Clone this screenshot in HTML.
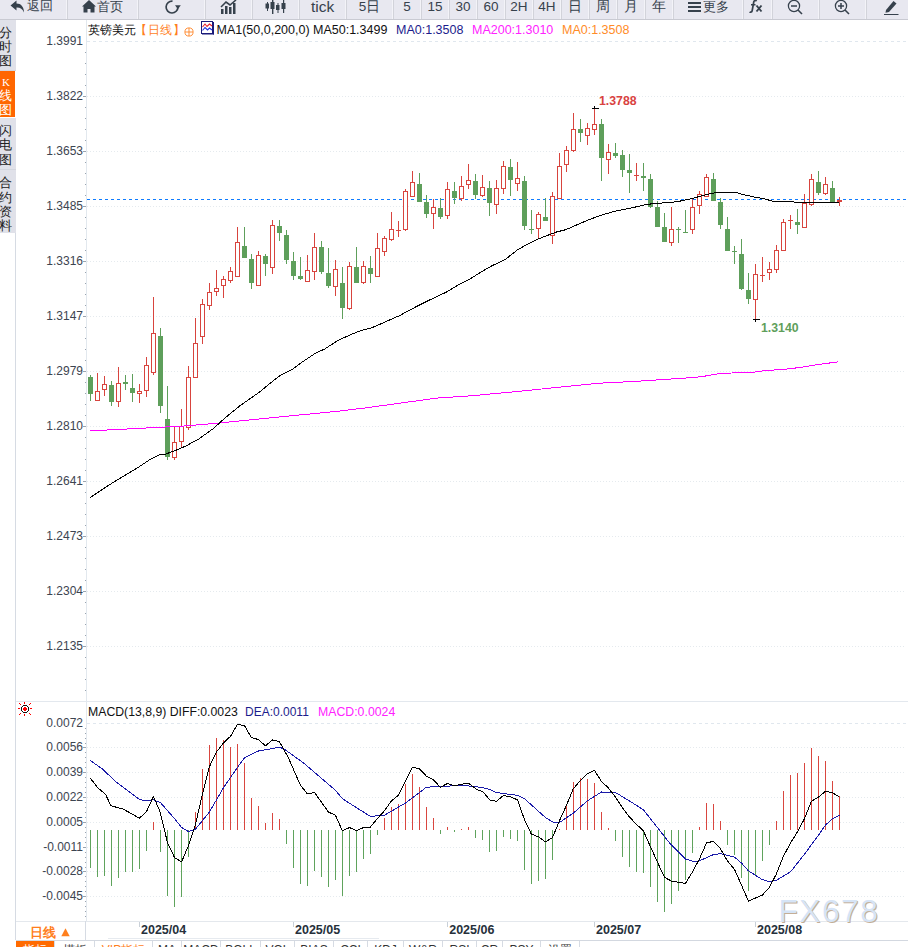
<!DOCTYPE html>
<html><head><meta charset="utf-8"><style>
html,body{margin:0;padding:0;}
body{width:908px;height:947px;overflow:hidden;position:relative;background:#fff;font-family:"Liberation Sans",sans-serif;color:#333;}
.abs{position:absolute;white-space:nowrap;}
#toolbar{position:absolute;left:0;top:0;width:908px;height:19px;background:#e8e8f0;border-bottom:1px solid #c9cad2;overflow:hidden;}
.tb{position:absolute;top:-6px;height:25px;display:flex;align-items:center;justify-content:center;color:#36414c;gap:1px;}
.side{position:absolute;left:0;width:16px;background:#e0e1e9;border-bottom:1px solid #d3d6de;}
.sc{position:absolute;left:-1px;font-size:13px;line-height:13px;}
.cj{font-size:12px;line-height:14px;}
.la{font-size:12.5px;line-height:14px;}
.lm{font-size:12px;line-height:14px;}
.yl{position:absolute;right:825px;font-size:12px;color:#3c4450;line-height:12px;}
.dl{position:absolute;top:923px;font-size:12.5px;font-weight:bold;color:#26303b;line-height:14px;}
.bt{position:absolute;top:941px;height:14px;font-size:12px;line-height:19px;text-align:center;border-right:1px solid #d6dbe3;color:#333;}
</style></head><body>
<div id="toolbar">
<div class="tb" style="left:0px;width:67px;"><svg width="15" height="13" viewBox="0 0 15 13" style="margin-left:-5px;margin-right:1px"><path d="M6.5 0.5 L0.5 5.5 L6.5 10.5 L6.5 7.5 C10 7.3 12.5 8.8 14 12.5 C14 7 11 3.6 6.5 3.6 Z" fill="#36414c"/></svg><span style="font-size:12.5px">返回</span></div>
<div class="tb" style="left:67px;width:71px;"><svg width="14" height="13" viewBox="0 0 14 13" style="vertical-align:-1px"><path d="M7 0 L0 6.5 L1.5 6.5 L1.5 12.5 L5.5 12.5 L5.5 9 L8.5 9 L8.5 12.5 L12.5 12.5 L12.5 6.5 L14 6.5 Z" fill="#36414c"/></svg><span style="font-size:13px">首页</span></div>
<div class="abs" style="left:66px;top:0;width:1px;height:20px;background:#f3f3f8"></div><div class="abs" style="left:67px;top:0;width:1px;height:19px;background:#d2d3da"></div>
<div class="tb" style="left:138px;width:67px;"><svg width="20" height="16" viewBox="0 0 20 16" style="margin-left:1px"><path d="M10.5 2.2 A5.9 5.9 0 1 0 15.9 8" fill="none" stroke="#36414c" stroke-width="1.7"/><path d="M13 6.3 L18.8 6.3 L15.9 10.2 Z" fill="#36414c"/></svg></div>
<div class="abs" style="left:137px;top:0;width:1px;height:20px;background:#f3f3f8"></div><div class="abs" style="left:138px;top:0;width:1px;height:19px;background:#d2d3da"></div>
<div class="tb" style="left:205px;width:47px;"><svg width="18" height="14" viewBox="0 0 18 14"><rect x="1" y="9" width="2.5" height="5" fill="#36414c"/><rect x="5" y="6" width="2.5" height="8" fill="#36414c"/><rect x="9" y="7" width="2.5" height="7" fill="#36414c"/><rect x="13" y="3" width="2.5" height="11" fill="#36414c"/><path d="M1 7 L6 2 L10 5 L16 0" fill="none" stroke="#36414c" stroke-width="1.6"/></svg></div>
<div class="abs" style="left:204px;top:0;width:1px;height:20px;background:#f3f3f8"></div><div class="abs" style="left:205px;top:0;width:1px;height:19px;background:#d2d3da"></div>
<div class="tb" style="left:252px;width:47px;"><svg width="21" height="15" viewBox="0 0 21 15"><g fill="#36414c"><rect x="2" y="3" width="1" height="9"/><rect x="0.5" y="4.5" width="3.5" height="5"/><rect x="7" y="0" width="1.4" height="15"/><rect x="5.5" y="3" width="4" height="7"/><rect x="12.5" y="4" width="1" height="10"/><rect x="11" y="6" width="3.5" height="5"/><rect x="18" y="1" width="1.2" height="13"/><rect x="16.5" y="4" width="4" height="6"/></g></svg></div>
<div class="abs" style="left:251px;top:0;width:1px;height:20px;background:#f3f3f8"></div><div class="abs" style="left:252px;top:0;width:1px;height:19px;background:#d2d3da"></div>
<div class="tb" style="left:299px;width:47px;"><span style="font-size:15.5px">tick</span></div>
<div class="abs" style="left:298px;top:0;width:1px;height:20px;background:#f3f3f8"></div><div class="abs" style="left:299px;top:0;width:1px;height:19px;background:#d2d3da"></div>
<div class="tb" style="left:346px;width:47px;"><span style="font-size:13.5px">5日</span></div>
<div class="abs" style="left:345px;top:0;width:1px;height:20px;background:#f3f3f8"></div><div class="abs" style="left:346px;top:0;width:1px;height:19px;background:#d2d3da"></div>
<div class="tb" style="left:393px;width:28px;"><span style="font-size:13.5px">5</span></div>
<div class="abs" style="left:392px;top:0;width:1px;height:20px;background:#f3f3f8"></div><div class="abs" style="left:393px;top:0;width:1px;height:19px;background:#d2d3da"></div>
<div class="tb" style="left:421px;width:28px;"><span style="font-size:13.5px">15</span></div>
<div class="abs" style="left:420px;top:0;width:1px;height:20px;background:#f3f3f8"></div><div class="abs" style="left:421px;top:0;width:1px;height:19px;background:#d2d3da"></div>
<div class="tb" style="left:449px;width:28px;"><span style="font-size:13.5px">30</span></div>
<div class="abs" style="left:448px;top:0;width:1px;height:20px;background:#f3f3f8"></div><div class="abs" style="left:449px;top:0;width:1px;height:19px;background:#d2d3da"></div>
<div class="tb" style="left:477px;width:28px;"><span style="font-size:13.5px">60</span></div>
<div class="abs" style="left:476px;top:0;width:1px;height:20px;background:#f3f3f8"></div><div class="abs" style="left:477px;top:0;width:1px;height:19px;background:#d2d3da"></div>
<div class="tb" style="left:505px;width:28px;"><span style="font-size:13.5px">2H</span></div>
<div class="abs" style="left:504px;top:0;width:1px;height:20px;background:#f3f3f8"></div><div class="abs" style="left:505px;top:0;width:1px;height:19px;background:#d2d3da"></div>
<div class="tb" style="left:533px;width:28px;"><span style="font-size:13.5px">4H</span></div>
<div class="abs" style="left:532px;top:0;width:1px;height:20px;background:#f3f3f8"></div><div class="abs" style="left:533px;top:0;width:1px;height:19px;background:#d2d3da"></div>
<div class="tb" style="left:561px;width:28px;"><span style="font-size:13.5px">日</span></div>
<div class="abs" style="left:560px;top:0;width:1px;height:20px;background:#f3f3f8"></div><div class="abs" style="left:561px;top:0;width:1px;height:19px;background:#d2d3da"></div>
<div class="tb" style="left:589px;width:28px;"><span style="font-size:13.5px">周</span></div>
<div class="abs" style="left:588px;top:0;width:1px;height:20px;background:#f3f3f8"></div><div class="abs" style="left:589px;top:0;width:1px;height:19px;background:#d2d3da"></div>
<div class="tb" style="left:617px;width:28px;"><span style="font-size:13.5px">月</span></div>
<div class="abs" style="left:616px;top:0;width:1px;height:20px;background:#f3f3f8"></div><div class="abs" style="left:617px;top:0;width:1px;height:19px;background:#d2d3da"></div>
<div class="tb" style="left:645px;width:28px;"><span style="font-size:13.5px">年</span></div>
<div class="abs" style="left:644px;top:0;width:1px;height:20px;background:#f3f3f8"></div><div class="abs" style="left:645px;top:0;width:1px;height:19px;background:#d2d3da"></div>
<div class="tb" style="left:673px;width:70px;"><svg width="14" height="12" viewBox="0 0 14 12" style="vertical-align:-1px"><rect x="0" y="1" width="13" height="2" fill="#36414c"/><rect x="0" y="5" width="13" height="2" fill="#36414c"/><rect x="0" y="9" width="13" height="2" fill="#36414c"/></svg><span style="font-size:13px">更多</span></div>
<div class="abs" style="left:672px;top:0;width:1px;height:20px;background:#f3f3f8"></div><div class="abs" style="left:673px;top:0;width:1px;height:19px;background:#d2d3da"></div>
<div class="tb" style="left:743px;width:29px;"><svg width="18" height="15" viewBox="0 0 18 15" style="margin-left:-1px"><path d="M8.5 2.2 C7.8 1.2 6.2 1.2 5.8 2.8 L4.2 11.5 C3.9 13.2 2.6 13.6 1.6 12.8" fill="none" stroke="#36414c" stroke-width="1.7"/><rect x="3" y="5" width="4.5" height="1.5" fill="#36414c"/><path d="M8.5 6.5 L13.5 12.5 M13.5 6.5 L8.5 12.5" stroke="#36414c" stroke-width="1.9"/></svg></div>
<div class="abs" style="left:742px;top:0;width:1px;height:20px;background:#f3f3f8"></div><div class="abs" style="left:743px;top:0;width:1px;height:19px;background:#d2d3da"></div>
<div class="tb" style="left:772px;width:47px;"><svg width="17" height="16" viewBox="0 0 17 16"><circle cx="7" cy="7" r="5.6" fill="none" stroke="#36414c" stroke-width="1.25"/><line x1="4" y1="7" x2="10" y2="7" stroke="#36414c" stroke-width="1.5"/><line x1="11" y1="11" x2="15" y2="15" stroke="#36414c" stroke-width="1.6"/></svg></div>
<div class="abs" style="left:771px;top:0;width:1px;height:20px;background:#f3f3f8"></div><div class="abs" style="left:772px;top:0;width:1px;height:19px;background:#d2d3da"></div>
<div class="tb" style="left:819px;width:47px;"><svg width="17" height="16" viewBox="0 0 17 16"><circle cx="7" cy="7" r="5.6" fill="none" stroke="#36414c" stroke-width="1.25"/><line x1="4" y1="7" x2="10" y2="7" stroke="#36414c" stroke-width="1.5"/><line x1="7" y1="4" x2="7" y2="10" stroke="#36414c" stroke-width="1.5"/><line x1="11" y1="11" x2="15" y2="15" stroke="#36414c" stroke-width="1.6"/></svg></div>
<div class="abs" style="left:818px;top:0;width:1px;height:20px;background:#f3f3f8"></div><div class="abs" style="left:819px;top:0;width:1px;height:19px;background:#d2d3da"></div>
<div class="tb" style="left:866px;width:42px;"><svg width="18" height="16" viewBox="0 0 18 16" style="margin-left:5px"><path d="M5 11 L12.5 2 L15.5 4.5 L8 13 L4.5 13.8 Z" fill="#36414c"/><rect x="3" y="15" width="14.5" height="1.3" fill="#36414c"/></svg></div>
<div class="abs" style="left:865px;top:0;width:1px;height:20px;background:#f3f3f8"></div><div class="abs" style="left:866px;top:0;width:1px;height:19px;background:#d2d3da"></div>
</div>
<div class="side" style="top:20px;height:50px;"></div>
<div class="side" style="top:71px;height:46px;width:15px;background:#ff6600;border-bottom:none"></div>
<div class="side" style="top:118px;height:51px;"></div>
<div class="side" style="top:170px;height:63px;border-bottom:none"></div>
<div class="sc" style="top:26px;color:#222">分</div>
<div class="sc" style="top:40px;color:#222">时</div>
<div class="sc" style="top:54px;color:#222">图</div>
<div class="sc" style="top:89px;color:#fff">线</div>
<div class="sc" style="top:103px;color:#fff">图</div>
<div class="sc" style="top:124px;color:#222">闪</div>
<div class="sc" style="top:138px;color:#222">电</div>
<div class="sc" style="top:153px;color:#222">图</div>
<div class="sc" style="top:176px;color:#222">合</div>
<div class="sc" style="top:191px;color:#222">约</div>
<div class="sc" style="top:205px;color:#222">资</div>
<div class="sc" style="top:219px;color:#222">料</div>
<div class="sc" style="top:76px;left:2px;color:#fff;font-family:'Liberation Serif',serif;font-size:11px">K</div>
<svg class="abs" style="left:0;top:0" width="908" height="947" viewBox="0 0 908 947">
<line x1="87" y1="41.5" x2="906" y2="41.5" stroke="#e0e7ee" stroke-dasharray="3 3"/>
<rect x="85" y="52" width="1" height="1" fill="#9aa4b0"/>
<rect x="85" y="63" width="1" height="1" fill="#9aa4b0"/>
<rect x="85" y="74" width="1" height="1" fill="#9aa4b0"/>
<rect x="85" y="85" width="1" height="1" fill="#9aa4b0"/>
<line x1="87" y1="96.5" x2="906" y2="96.5" stroke="#e5eaee" stroke-dasharray="1 2"/>
<line x1="83" y1="96.5" x2="86" y2="96.5" stroke="#9aa4b0"/>
<rect x="85" y="107" width="1" height="1" fill="#9aa4b0"/>
<rect x="85" y="118" width="1" height="1" fill="#9aa4b0"/>
<rect x="85" y="129" width="1" height="1" fill="#9aa4b0"/>
<rect x="85" y="140" width="1" height="1" fill="#9aa4b0"/>
<line x1="87" y1="151.5" x2="906" y2="151.5" stroke="#e5eaee" stroke-dasharray="1 2"/>
<line x1="83" y1="151.5" x2="86" y2="151.5" stroke="#9aa4b0"/>
<rect x="85" y="162" width="1" height="1" fill="#9aa4b0"/>
<rect x="85" y="173" width="1" height="1" fill="#9aa4b0"/>
<rect x="85" y="184" width="1" height="1" fill="#9aa4b0"/>
<rect x="85" y="195" width="1" height="1" fill="#9aa4b0"/>
<line x1="87" y1="206.5" x2="906" y2="206.5" stroke="#e5eaee" stroke-dasharray="1 2"/>
<line x1="83" y1="206.5" x2="86" y2="206.5" stroke="#9aa4b0"/>
<rect x="85" y="217" width="1" height="1" fill="#9aa4b0"/>
<rect x="85" y="228" width="1" height="1" fill="#9aa4b0"/>
<rect x="85" y="239" width="1" height="1" fill="#9aa4b0"/>
<rect x="85" y="250" width="1" height="1" fill="#9aa4b0"/>
<line x1="87" y1="261.5" x2="906" y2="261.5" stroke="#e5eaee" stroke-dasharray="1 2"/>
<line x1="83" y1="261.5" x2="86" y2="261.5" stroke="#9aa4b0"/>
<rect x="85" y="272" width="1" height="1" fill="#9aa4b0"/>
<rect x="85" y="283" width="1" height="1" fill="#9aa4b0"/>
<rect x="85" y="294" width="1" height="1" fill="#9aa4b0"/>
<rect x="85" y="305" width="1" height="1" fill="#9aa4b0"/>
<line x1="87" y1="316.5" x2="906" y2="316.5" stroke="#e5eaee" stroke-dasharray="1 2"/>
<line x1="83" y1="316.5" x2="86" y2="316.5" stroke="#9aa4b0"/>
<rect x="85" y="327" width="1" height="1" fill="#9aa4b0"/>
<rect x="85" y="338" width="1" height="1" fill="#9aa4b0"/>
<rect x="85" y="349" width="1" height="1" fill="#9aa4b0"/>
<rect x="85" y="360" width="1" height="1" fill="#9aa4b0"/>
<line x1="87" y1="371.5" x2="906" y2="371.5" stroke="#e5eaee" stroke-dasharray="1 2"/>
<line x1="83" y1="371.5" x2="86" y2="371.5" stroke="#9aa4b0"/>
<rect x="85" y="382" width="1" height="1" fill="#9aa4b0"/>
<rect x="85" y="393" width="1" height="1" fill="#9aa4b0"/>
<rect x="85" y="404" width="1" height="1" fill="#9aa4b0"/>
<rect x="85" y="415" width="1" height="1" fill="#9aa4b0"/>
<line x1="87" y1="426.5" x2="906" y2="426.5" stroke="#e5eaee" stroke-dasharray="1 2"/>
<line x1="83" y1="426.5" x2="86" y2="426.5" stroke="#9aa4b0"/>
<rect x="85" y="437" width="1" height="1" fill="#9aa4b0"/>
<rect x="85" y="448" width="1" height="1" fill="#9aa4b0"/>
<rect x="85" y="459" width="1" height="1" fill="#9aa4b0"/>
<rect x="85" y="470" width="1" height="1" fill="#9aa4b0"/>
<line x1="87" y1="481.5" x2="906" y2="481.5" stroke="#e5eaee" stroke-dasharray="1 2"/>
<line x1="83" y1="481.5" x2="86" y2="481.5" stroke="#9aa4b0"/>
<rect x="85" y="492" width="1" height="1" fill="#9aa4b0"/>
<rect x="85" y="503" width="1" height="1" fill="#9aa4b0"/>
<rect x="85" y="514" width="1" height="1" fill="#9aa4b0"/>
<rect x="85" y="525" width="1" height="1" fill="#9aa4b0"/>
<line x1="87" y1="536.5" x2="906" y2="536.5" stroke="#e5eaee" stroke-dasharray="1 2"/>
<line x1="83" y1="536.5" x2="86" y2="536.5" stroke="#9aa4b0"/>
<rect x="85" y="547" width="1" height="1" fill="#9aa4b0"/>
<rect x="85" y="558" width="1" height="1" fill="#9aa4b0"/>
<rect x="85" y="569" width="1" height="1" fill="#9aa4b0"/>
<rect x="85" y="580" width="1" height="1" fill="#9aa4b0"/>
<line x1="87" y1="591.5" x2="906" y2="591.5" stroke="#e5eaee" stroke-dasharray="1 2"/>
<line x1="83" y1="591.5" x2="86" y2="591.5" stroke="#9aa4b0"/>
<rect x="85" y="602" width="1" height="1" fill="#9aa4b0"/>
<rect x="85" y="613" width="1" height="1" fill="#9aa4b0"/>
<rect x="85" y="624" width="1" height="1" fill="#9aa4b0"/>
<rect x="85" y="635" width="1" height="1" fill="#9aa4b0"/>
<line x1="87" y1="646.5" x2="906" y2="646.5" stroke="#e5eaee" stroke-dasharray="1 2"/>
<line x1="83" y1="646.5" x2="86" y2="646.5" stroke="#9aa4b0"/>
<rect x="85" y="657" width="1" height="1" fill="#9aa4b0"/>
<rect x="85" y="668" width="1" height="1" fill="#9aa4b0"/>
<rect x="85" y="679" width="1" height="1" fill="#9aa4b0"/>
<rect x="85" y="690" width="1" height="1" fill="#9aa4b0"/>
<line x1="87" y1="723.5" x2="906" y2="723.5" stroke="#e0e7ee" stroke-dasharray="3 3"/>
<rect x="85" y="728" width="1" height="1" fill="#9aa4b0"/>
<rect x="85" y="733" width="1" height="1" fill="#9aa4b0"/>
<rect x="85" y="738" width="1" height="1" fill="#9aa4b0"/>
<rect x="85" y="743" width="1" height="1" fill="#9aa4b0"/>
<line x1="87" y1="747.5" x2="906" y2="747.5" stroke="#e5eaee" stroke-dasharray="1 2"/>
<line x1="83" y1="747.5" x2="86" y2="747.5" stroke="#9aa4b0"/>
<rect x="85" y="752" width="1" height="1" fill="#9aa4b0"/>
<rect x="85" y="757" width="1" height="1" fill="#9aa4b0"/>
<rect x="85" y="762" width="1" height="1" fill="#9aa4b0"/>
<rect x="85" y="767" width="1" height="1" fill="#9aa4b0"/>
<line x1="87" y1="772.5" x2="906" y2="772.5" stroke="#e5eaee" stroke-dasharray="1 2"/>
<line x1="83" y1="772.5" x2="86" y2="772.5" stroke="#9aa4b0"/>
<rect x="85" y="777" width="1" height="1" fill="#9aa4b0"/>
<rect x="85" y="782" width="1" height="1" fill="#9aa4b0"/>
<rect x="85" y="787" width="1" height="1" fill="#9aa4b0"/>
<rect x="85" y="792" width="1" height="1" fill="#9aa4b0"/>
<line x1="87" y1="797.5" x2="906" y2="797.5" stroke="#e5eaee" stroke-dasharray="1 2"/>
<line x1="83" y1="797.5" x2="86" y2="797.5" stroke="#9aa4b0"/>
<rect x="85" y="802" width="1" height="1" fill="#9aa4b0"/>
<rect x="85" y="807" width="1" height="1" fill="#9aa4b0"/>
<rect x="85" y="812" width="1" height="1" fill="#9aa4b0"/>
<rect x="85" y="817" width="1" height="1" fill="#9aa4b0"/>
<line x1="87" y1="822.5" x2="906" y2="822.5" stroke="#e5eaee" stroke-dasharray="1 2"/>
<line x1="83" y1="822.5" x2="86" y2="822.5" stroke="#9aa4b0"/>
<rect x="85" y="827" width="1" height="1" fill="#9aa4b0"/>
<rect x="85" y="832" width="1" height="1" fill="#9aa4b0"/>
<rect x="85" y="837" width="1" height="1" fill="#9aa4b0"/>
<rect x="85" y="842" width="1" height="1" fill="#9aa4b0"/>
<line x1="87" y1="847.5" x2="906" y2="847.5" stroke="#e5eaee" stroke-dasharray="1 2"/>
<line x1="83" y1="847.5" x2="86" y2="847.5" stroke="#9aa4b0"/>
<rect x="85" y="852" width="1" height="1" fill="#9aa4b0"/>
<rect x="85" y="857" width="1" height="1" fill="#9aa4b0"/>
<rect x="85" y="862" width="1" height="1" fill="#9aa4b0"/>
<rect x="85" y="867" width="1" height="1" fill="#9aa4b0"/>
<line x1="87" y1="871.5" x2="906" y2="871.5" stroke="#e5eaee" stroke-dasharray="1 2"/>
<line x1="83" y1="871.5" x2="86" y2="871.5" stroke="#9aa4b0"/>
<rect x="85" y="876" width="1" height="1" fill="#9aa4b0"/>
<rect x="85" y="881" width="1" height="1" fill="#9aa4b0"/>
<rect x="85" y="886" width="1" height="1" fill="#9aa4b0"/>
<rect x="85" y="891" width="1" height="1" fill="#9aa4b0"/>
<line x1="87" y1="896.5" x2="906" y2="896.5" stroke="#e5eaee" stroke-dasharray="1 2"/>
<line x1="83" y1="896.5" x2="86" y2="896.5" stroke="#9aa4b0"/>
<rect x="85" y="901" width="1" height="1" fill="#9aa4b0"/>
<rect x="85" y="906" width="1" height="1" fill="#9aa4b0"/>
<rect x="85" y="911" width="1" height="1" fill="#9aa4b0"/>
<rect x="85" y="916" width="1" height="1" fill="#9aa4b0"/>
<rect x="86" y="20" width="1" height="901" fill="#e2e8ee"/>
<rect x="16" y="701" width="892" height="1" fill="#e3e8ee"/>
<rect x="15" y="233" width="1" height="707" fill="#d6dbe3"/>
<rect x="16" y="921" width="892" height="1" fill="#e4e8ed"/>
<rect x="16" y="940" width="892" height="1" fill="#d3d8e0"/>
<line x1="87" y1="199.5" x2="906" y2="199.5" stroke="#0f7cff" stroke-dasharray="3 3"/>
<rect x="90" y="375" width="1" height="26" fill="#5e9f5b"/>
<rect x="88" y="377" width="5" height="17" fill="#5e9f5b"/>
<rect x="97" y="373" width="1" height="18" fill="#d8443e"/>
<rect x="97" y="401" width="1" height="0" fill="#d8443e"/>
<rect x="95.5" y="391.5" width="4" height="9" fill="#fff" stroke="#d8443e" stroke-width="1"/>
<rect x="104" y="376" width="1" height="8" fill="#d8443e"/>
<rect x="104" y="390" width="1" height="6" fill="#d8443e"/>
<rect x="102.5" y="384.5" width="4" height="5" fill="#fff" stroke="#d8443e" stroke-width="1"/>
<rect x="111" y="381" width="1" height="25" fill="#5e9f5b"/>
<rect x="109" y="385" width="5" height="17" fill="#5e9f5b"/>
<rect x="118" y="367" width="1" height="16" fill="#d8443e"/>
<rect x="118" y="402" width="1" height="5" fill="#d8443e"/>
<rect x="116.5" y="383.5" width="4" height="18" fill="#fff" stroke="#d8443e" stroke-width="1"/>
<rect x="125" y="375" width="1" height="15" fill="#5e9f5b"/>
<rect x="123" y="382" width="5" height="2" fill="#5e9f5b"/>
<rect x="132" y="374" width="1" height="28" fill="#5e9f5b"/>
<rect x="130" y="388" width="5" height="5" fill="#5e9f5b"/>
<rect x="139" y="384" width="1" height="7" fill="#d8443e"/>
<rect x="139" y="394" width="1" height="9" fill="#d8443e"/>
<rect x="137.5" y="391.5" width="4" height="2" fill="#fff" stroke="#d8443e" stroke-width="1"/>
<rect x="146" y="357" width="1" height="8" fill="#d8443e"/>
<rect x="146" y="391" width="1" height="6" fill="#d8443e"/>
<rect x="144.5" y="365.5" width="4" height="25" fill="#fff" stroke="#d8443e" stroke-width="1"/>
<rect x="153" y="297" width="1" height="36" fill="#d8443e"/>
<rect x="153" y="373" width="1" height="2" fill="#d8443e"/>
<rect x="151.5" y="333.5" width="4" height="39" fill="#fff" stroke="#d8443e" stroke-width="1"/>
<rect x="160" y="328" width="1" height="85" fill="#5e9f5b"/>
<rect x="158" y="336" width="5" height="70" fill="#5e9f5b"/>
<rect x="167" y="386" width="1" height="74" fill="#5e9f5b"/>
<rect x="165" y="419" width="5" height="38" fill="#5e9f5b"/>
<rect x="174" y="426" width="1" height="16" fill="#d8443e"/>
<rect x="174" y="458" width="1" height="2" fill="#d8443e"/>
<rect x="172.5" y="442.5" width="4" height="15" fill="#fff" stroke="#d8443e" stroke-width="1"/>
<rect x="181" y="409" width="1" height="17" fill="#d8443e"/>
<rect x="181" y="442" width="1" height="6" fill="#d8443e"/>
<rect x="179.5" y="426.5" width="4" height="15" fill="#fff" stroke="#d8443e" stroke-width="1"/>
<rect x="188" y="366" width="1" height="11" fill="#d8443e"/>
<rect x="188" y="428" width="1" height="2" fill="#d8443e"/>
<rect x="186.5" y="377.5" width="4" height="50" fill="#fff" stroke="#d8443e" stroke-width="1"/>
<rect x="195" y="318" width="1" height="25" fill="#d8443e"/>
<rect x="195" y="378" width="1" height="0" fill="#d8443e"/>
<rect x="193.5" y="343.5" width="4" height="34" fill="#fff" stroke="#d8443e" stroke-width="1"/>
<rect x="202" y="299" width="1" height="5" fill="#d8443e"/>
<rect x="202" y="337" width="1" height="7" fill="#d8443e"/>
<rect x="200.5" y="304.5" width="4" height="32" fill="#fff" stroke="#d8443e" stroke-width="1"/>
<rect x="209" y="283" width="1" height="9" fill="#d8443e"/>
<rect x="209" y="306" width="1" height="4" fill="#d8443e"/>
<rect x="207.5" y="292.5" width="4" height="13" fill="#fff" stroke="#d8443e" stroke-width="1"/>
<rect x="216" y="270" width="1" height="18" fill="#d8443e"/>
<rect x="216" y="292" width="1" height="4" fill="#d8443e"/>
<rect x="214.5" y="288.5" width="4" height="3" fill="#fff" stroke="#d8443e" stroke-width="1"/>
<rect x="223" y="276" width="1" height="3" fill="#d8443e"/>
<rect x="223" y="286" width="1" height="12" fill="#d8443e"/>
<rect x="221.5" y="279.5" width="4" height="6" fill="#fff" stroke="#d8443e" stroke-width="1"/>
<rect x="230" y="267" width="1" height="4" fill="#d8443e"/>
<rect x="230" y="281" width="1" height="2" fill="#d8443e"/>
<rect x="228.5" y="271.5" width="4" height="9" fill="#fff" stroke="#d8443e" stroke-width="1"/>
<rect x="237" y="227" width="1" height="15" fill="#d8443e"/>
<rect x="237" y="277" width="1" height="0" fill="#d8443e"/>
<rect x="235.5" y="242.5" width="4" height="34" fill="#fff" stroke="#d8443e" stroke-width="1"/>
<rect x="244" y="227" width="1" height="31" fill="#5e9f5b"/>
<rect x="242" y="246" width="5" height="12" fill="#5e9f5b"/>
<rect x="251" y="254" width="1" height="35" fill="#5e9f5b"/>
<rect x="249" y="259" width="5" height="24" fill="#5e9f5b"/>
<rect x="258" y="251" width="1" height="4" fill="#d8443e"/>
<rect x="258" y="286" width="1" height="0" fill="#d8443e"/>
<rect x="256.5" y="255.5" width="4" height="30" fill="#fff" stroke="#d8443e" stroke-width="1"/>
<rect x="265" y="254" width="1" height="22" fill="#5e9f5b"/>
<rect x="263" y="256" width="5" height="8" fill="#5e9f5b"/>
<rect x="272" y="220" width="1" height="5" fill="#d8443e"/>
<rect x="272" y="268" width="1" height="6" fill="#d8443e"/>
<rect x="270.5" y="225.5" width="4" height="42" fill="#fff" stroke="#d8443e" stroke-width="1"/>
<rect x="279" y="220" width="1" height="21" fill="#5e9f5b"/>
<rect x="277" y="226" width="5" height="7" fill="#5e9f5b"/>
<rect x="286" y="230" width="1" height="34" fill="#5e9f5b"/>
<rect x="284" y="235" width="5" height="25" fill="#5e9f5b"/>
<rect x="293" y="252" width="1" height="28" fill="#5e9f5b"/>
<rect x="291" y="261" width="5" height="15" fill="#5e9f5b"/>
<rect x="300" y="257" width="1" height="23" fill="#5e9f5b"/>
<rect x="298" y="276" width="5" height="3" fill="#5e9f5b"/>
<rect x="307" y="255" width="1" height="15" fill="#d8443e"/>
<rect x="307" y="282" width="1" height="0" fill="#d8443e"/>
<rect x="305.5" y="270.5" width="4" height="11" fill="#fff" stroke="#d8443e" stroke-width="1"/>
<rect x="314" y="233" width="1" height="14" fill="#d8443e"/>
<rect x="314" y="272" width="1" height="8" fill="#d8443e"/>
<rect x="312.5" y="247.5" width="4" height="24" fill="#fff" stroke="#d8443e" stroke-width="1"/>
<rect x="321" y="241" width="1" height="33" fill="#5e9f5b"/>
<rect x="319" y="247" width="5" height="25" fill="#5e9f5b"/>
<rect x="328" y="248" width="1" height="40" fill="#5e9f5b"/>
<rect x="326" y="273" width="5" height="13" fill="#5e9f5b"/>
<rect x="335" y="260" width="1" height="9" fill="#d8443e"/>
<rect x="335" y="287" width="1" height="9" fill="#d8443e"/>
<rect x="333.5" y="269.5" width="4" height="17" fill="#fff" stroke="#d8443e" stroke-width="1"/>
<rect x="342" y="267" width="1" height="52" fill="#5e9f5b"/>
<rect x="340" y="283" width="5" height="25" fill="#5e9f5b"/>
<rect x="349" y="262" width="1" height="4" fill="#d8443e"/>
<rect x="349" y="309" width="1" height="1" fill="#d8443e"/>
<rect x="347.5" y="266.5" width="4" height="42" fill="#fff" stroke="#d8443e" stroke-width="1"/>
<rect x="356" y="247" width="1" height="36" fill="#5e9f5b"/>
<rect x="354" y="267" width="5" height="16" fill="#5e9f5b"/>
<rect x="363" y="261" width="1" height="5" fill="#d8443e"/>
<rect x="363" y="283" width="1" height="1" fill="#d8443e"/>
<rect x="361.5" y="266.5" width="4" height="16" fill="#fff" stroke="#d8443e" stroke-width="1"/>
<rect x="370" y="256" width="1" height="27" fill="#5e9f5b"/>
<rect x="368" y="268" width="5" height="6" fill="#5e9f5b"/>
<rect x="377" y="233" width="1" height="15" fill="#d8443e"/>
<rect x="377" y="277" width="1" height="0" fill="#d8443e"/>
<rect x="375.5" y="248.5" width="4" height="28" fill="#fff" stroke="#d8443e" stroke-width="1"/>
<rect x="384" y="236" width="1" height="2" fill="#d8443e"/>
<rect x="384" y="252" width="1" height="4" fill="#d8443e"/>
<rect x="382.5" y="238.5" width="4" height="13" fill="#fff" stroke="#d8443e" stroke-width="1"/>
<rect x="391" y="212" width="1" height="17" fill="#d8443e"/>
<rect x="391" y="240" width="1" height="1" fill="#d8443e"/>
<rect x="389.5" y="229.5" width="4" height="10" fill="#fff" stroke="#d8443e" stroke-width="1"/>
<rect x="398" y="221" width="1" height="9" fill="#d8443e"/>
<rect x="398" y="231" width="1" height="6" fill="#d8443e"/>
<rect x="396" y="230" width="5" height="1" fill="#d8443e"/>
<rect x="405" y="189" width="1" height="2" fill="#d8443e"/>
<rect x="405" y="230" width="1" height="1" fill="#d8443e"/>
<rect x="403.5" y="191.5" width="4" height="38" fill="#fff" stroke="#d8443e" stroke-width="1"/>
<rect x="412" y="171" width="1" height="11" fill="#d8443e"/>
<rect x="412" y="197" width="1" height="0" fill="#d8443e"/>
<rect x="410.5" y="182.5" width="4" height="14" fill="#fff" stroke="#d8443e" stroke-width="1"/>
<rect x="419" y="173" width="1" height="29" fill="#5e9f5b"/>
<rect x="417" y="184" width="5" height="18" fill="#5e9f5b"/>
<rect x="426" y="195" width="1" height="23" fill="#5e9f5b"/>
<rect x="424" y="202" width="5" height="12" fill="#5e9f5b"/>
<rect x="433" y="199" width="1" height="8" fill="#d8443e"/>
<rect x="433" y="214" width="1" height="15" fill="#d8443e"/>
<rect x="431.5" y="207.5" width="4" height="6" fill="#fff" stroke="#d8443e" stroke-width="1"/>
<rect x="440" y="198" width="1" height="21" fill="#5e9f5b"/>
<rect x="438" y="208" width="5" height="9" fill="#5e9f5b"/>
<rect x="447" y="182" width="1" height="7" fill="#d8443e"/>
<rect x="447" y="216" width="1" height="3" fill="#d8443e"/>
<rect x="445.5" y="189.5" width="4" height="26" fill="#fff" stroke="#d8443e" stroke-width="1"/>
<rect x="454" y="182" width="1" height="22" fill="#5e9f5b"/>
<rect x="452" y="191" width="5" height="7" fill="#5e9f5b"/>
<rect x="461" y="176" width="1" height="10" fill="#d8443e"/>
<rect x="461" y="199" width="1" height="2" fill="#d8443e"/>
<rect x="459.5" y="186.5" width="4" height="12" fill="#fff" stroke="#d8443e" stroke-width="1"/>
<rect x="468" y="164" width="1" height="16" fill="#d8443e"/>
<rect x="468" y="185" width="1" height="4" fill="#d8443e"/>
<rect x="466.5" y="180.5" width="4" height="4" fill="#fff" stroke="#d8443e" stroke-width="1"/>
<rect x="475" y="174" width="1" height="25" fill="#5e9f5b"/>
<rect x="473" y="181" width="5" height="14" fill="#5e9f5b"/>
<rect x="482" y="175" width="1" height="12" fill="#d8443e"/>
<rect x="482" y="196" width="1" height="1" fill="#d8443e"/>
<rect x="480.5" y="187.5" width="4" height="8" fill="#fff" stroke="#d8443e" stroke-width="1"/>
<rect x="489" y="181" width="1" height="35" fill="#5e9f5b"/>
<rect x="487" y="188" width="5" height="15" fill="#5e9f5b"/>
<rect x="496" y="180" width="1" height="8" fill="#d8443e"/>
<rect x="496" y="205" width="1" height="9" fill="#d8443e"/>
<rect x="494.5" y="188.5" width="4" height="16" fill="#fff" stroke="#d8443e" stroke-width="1"/>
<rect x="503" y="161" width="1" height="5" fill="#d8443e"/>
<rect x="503" y="189" width="1" height="5" fill="#d8443e"/>
<rect x="501.5" y="166.5" width="4" height="22" fill="#fff" stroke="#d8443e" stroke-width="1"/>
<rect x="510" y="159" width="1" height="37" fill="#5e9f5b"/>
<rect x="508" y="167" width="5" height="13" fill="#5e9f5b"/>
<rect x="517" y="162" width="1" height="16" fill="#d8443e"/>
<rect x="517" y="184" width="1" height="7" fill="#d8443e"/>
<rect x="515.5" y="178.5" width="4" height="5" fill="#fff" stroke="#d8443e" stroke-width="1"/>
<rect x="524" y="176" width="1" height="54" fill="#5e9f5b"/>
<rect x="522" y="181" width="5" height="45" fill="#5e9f5b"/>
<rect x="531" y="210" width="1" height="24" fill="#5e9f5b"/>
<rect x="529" y="229" width="5" height="1" fill="#5e9f5b"/>
<rect x="538" y="212" width="1" height="2" fill="#d8443e"/>
<rect x="538" y="229" width="1" height="9" fill="#d8443e"/>
<rect x="536.5" y="214.5" width="4" height="14" fill="#fff" stroke="#d8443e" stroke-width="1"/>
<rect x="545" y="198" width="1" height="23" fill="#5e9f5b"/>
<rect x="543" y="217" width="5" height="4" fill="#5e9f5b"/>
<rect x="552" y="192" width="1" height="4" fill="#d8443e"/>
<rect x="552" y="236" width="1" height="8" fill="#d8443e"/>
<rect x="550.5" y="196.5" width="4" height="39" fill="#fff" stroke="#d8443e" stroke-width="1"/>
<rect x="559" y="153" width="1" height="13" fill="#d8443e"/>
<rect x="559" y="199" width="1" height="0" fill="#d8443e"/>
<rect x="557.5" y="166.5" width="4" height="32" fill="#fff" stroke="#d8443e" stroke-width="1"/>
<rect x="566" y="146" width="1" height="4" fill="#d8443e"/>
<rect x="566" y="165" width="1" height="7" fill="#d8443e"/>
<rect x="564.5" y="150.5" width="4" height="14" fill="#fff" stroke="#d8443e" stroke-width="1"/>
<rect x="573" y="113" width="1" height="16" fill="#d8443e"/>
<rect x="573" y="151" width="1" height="1" fill="#d8443e"/>
<rect x="571.5" y="129.5" width="4" height="21" fill="#fff" stroke="#d8443e" stroke-width="1"/>
<rect x="580" y="119" width="1" height="23" fill="#5e9f5b"/>
<rect x="578" y="129" width="5" height="4" fill="#5e9f5b"/>
<rect x="587" y="123" width="1" height="5" fill="#d8443e"/>
<rect x="587" y="136" width="1" height="9" fill="#d8443e"/>
<rect x="585.5" y="128.5" width="4" height="7" fill="#fff" stroke="#d8443e" stroke-width="1"/>
<rect x="594" y="108" width="1" height="16" fill="#d8443e"/>
<rect x="594" y="130" width="1" height="5" fill="#d8443e"/>
<rect x="592.5" y="124.5" width="4" height="5" fill="#fff" stroke="#d8443e" stroke-width="1"/>
<rect x="601" y="119" width="1" height="62" fill="#5e9f5b"/>
<rect x="599" y="124" width="5" height="34" fill="#5e9f5b"/>
<rect x="608" y="144" width="1" height="8" fill="#d8443e"/>
<rect x="608" y="160" width="1" height="14" fill="#d8443e"/>
<rect x="606.5" y="152.5" width="4" height="7" fill="#fff" stroke="#d8443e" stroke-width="1"/>
<rect x="615" y="143" width="1" height="15" fill="#5e9f5b"/>
<rect x="613" y="153" width="5" height="3" fill="#5e9f5b"/>
<rect x="622" y="150" width="1" height="27" fill="#5e9f5b"/>
<rect x="620" y="155" width="5" height="15" fill="#5e9f5b"/>
<rect x="629" y="154" width="1" height="39" fill="#5e9f5b"/>
<rect x="627" y="170" width="5" height="3" fill="#5e9f5b"/>
<rect x="636" y="163" width="1" height="12" fill="#d8443e"/>
<rect x="636" y="176" width="1" height="5" fill="#d8443e"/>
<rect x="634" y="175" width="5" height="1" fill="#d8443e"/>
<rect x="643" y="163" width="1" height="28" fill="#5e9f5b"/>
<rect x="641" y="176" width="5" height="2" fill="#5e9f5b"/>
<rect x="650" y="174" width="1" height="34" fill="#5e9f5b"/>
<rect x="648" y="179" width="5" height="28" fill="#5e9f5b"/>
<rect x="657" y="201" width="1" height="26" fill="#5e9f5b"/>
<rect x="655" y="207" width="5" height="20" fill="#5e9f5b"/>
<rect x="664" y="213" width="1" height="29" fill="#5e9f5b"/>
<rect x="662" y="227" width="5" height="15" fill="#5e9f5b"/>
<rect x="671" y="207" width="1" height="22" fill="#d8443e"/>
<rect x="671" y="243" width="1" height="3" fill="#d8443e"/>
<rect x="669.5" y="229.5" width="4" height="13" fill="#fff" stroke="#d8443e" stroke-width="1"/>
<rect x="678" y="227" width="1" height="16" fill="#5e9f5b"/>
<rect x="676" y="229" width="5" height="1" fill="#5e9f5b"/>
<rect x="685" y="210" width="1" height="23" fill="#5e9f5b"/>
<rect x="683" y="232" width="5" height="1" fill="#5e9f5b"/>
<rect x="692" y="199" width="1" height="8" fill="#d8443e"/>
<rect x="692" y="230" width="1" height="4" fill="#d8443e"/>
<rect x="690.5" y="207.5" width="4" height="22" fill="#fff" stroke="#d8443e" stroke-width="1"/>
<rect x="699" y="191" width="1" height="3" fill="#d8443e"/>
<rect x="699" y="206" width="1" height="8" fill="#d8443e"/>
<rect x="697.5" y="194.5" width="4" height="11" fill="#fff" stroke="#d8443e" stroke-width="1"/>
<rect x="706" y="174" width="1" height="3" fill="#d8443e"/>
<rect x="706" y="197" width="1" height="0" fill="#d8443e"/>
<rect x="704.5" y="177.5" width="4" height="19" fill="#fff" stroke="#d8443e" stroke-width="1"/>
<rect x="713" y="173" width="1" height="28" fill="#5e9f5b"/>
<rect x="711" y="179" width="5" height="22" fill="#5e9f5b"/>
<rect x="720" y="198" width="1" height="31" fill="#5e9f5b"/>
<rect x="718" y="202" width="5" height="23" fill="#5e9f5b"/>
<rect x="727" y="217" width="1" height="34" fill="#5e9f5b"/>
<rect x="725" y="229" width="5" height="22" fill="#5e9f5b"/>
<rect x="734" y="246" width="1" height="18" fill="#5e9f5b"/>
<rect x="732" y="251" width="5" height="1" fill="#5e9f5b"/>
<rect x="741" y="239" width="1" height="51" fill="#5e9f5b"/>
<rect x="739" y="254" width="5" height="35" fill="#5e9f5b"/>
<rect x="748" y="273" width="1" height="31" fill="#5e9f5b"/>
<rect x="746" y="290" width="5" height="9" fill="#5e9f5b"/>
<rect x="755" y="264" width="1" height="10" fill="#d8443e"/>
<rect x="755" y="300" width="1" height="19" fill="#d8443e"/>
<rect x="753.5" y="274.5" width="4" height="25" fill="#fff" stroke="#d8443e" stroke-width="1"/>
<rect x="762" y="257" width="1" height="18" fill="#d8443e"/>
<rect x="762" y="276" width="1" height="6" fill="#d8443e"/>
<rect x="760" y="275" width="5" height="1" fill="#d8443e"/>
<rect x="769" y="262" width="1" height="7" fill="#d8443e"/>
<rect x="769" y="273" width="1" height="7" fill="#d8443e"/>
<rect x="767.5" y="269.5" width="4" height="3" fill="#fff" stroke="#d8443e" stroke-width="1"/>
<rect x="776" y="245" width="1" height="5" fill="#d8443e"/>
<rect x="776" y="270" width="1" height="3" fill="#d8443e"/>
<rect x="774.5" y="250.5" width="4" height="19" fill="#fff" stroke="#d8443e" stroke-width="1"/>
<rect x="783" y="219" width="1" height="3" fill="#d8443e"/>
<rect x="783" y="251" width="1" height="0" fill="#d8443e"/>
<rect x="781.5" y="222.5" width="4" height="28" fill="#fff" stroke="#d8443e" stroke-width="1"/>
<rect x="790" y="215" width="1" height="5" fill="#d8443e"/>
<rect x="790" y="221" width="1" height="8" fill="#d8443e"/>
<rect x="788" y="220" width="5" height="1" fill="#d8443e"/>
<rect x="797" y="209" width="1" height="25" fill="#5e9f5b"/>
<rect x="795" y="222" width="5" height="3" fill="#5e9f5b"/>
<rect x="804" y="194" width="1" height="9" fill="#d8443e"/>
<rect x="804" y="228" width="1" height="0" fill="#d8443e"/>
<rect x="802.5" y="203.5" width="4" height="24" fill="#fff" stroke="#d8443e" stroke-width="1"/>
<rect x="811" y="174" width="1" height="5" fill="#d8443e"/>
<rect x="811" y="205" width="1" height="1" fill="#d8443e"/>
<rect x="809.5" y="179.5" width="4" height="25" fill="#fff" stroke="#d8443e" stroke-width="1"/>
<rect x="818" y="171" width="1" height="24" fill="#5e9f5b"/>
<rect x="816" y="182" width="5" height="11" fill="#5e9f5b"/>
<rect x="825" y="177" width="1" height="7" fill="#d8443e"/>
<rect x="825" y="194" width="1" height="1" fill="#d8443e"/>
<rect x="823.5" y="184.5" width="4" height="9" fill="#fff" stroke="#d8443e" stroke-width="1"/>
<rect x="832" y="181" width="1" height="21" fill="#5e9f5b"/>
<rect x="830" y="188" width="5" height="14" fill="#5e9f5b"/>
<rect x="839" y="197" width="1" height="3" fill="#d8443e"/>
<rect x="839" y="202" width="1" height="4" fill="#d8443e"/>
<rect x="837" y="200" width="5" height="2" fill="#d8443e"/>
<rect x="592" y="108" width="7" height="1" fill="#000"/><rect x="594" y="106" width="1" height="2" fill="#000"/>
<rect x="753" y="319" width="7" height="1" fill="#000"/><rect x="755" y="320" width="1" height="2" fill="#000"/>
<polyline points="90,430.9 146.2,428 187.4,425.8 221.1,422.8 258,419.1 340,411 366.4,407.8 406.1,402.3 437.8,398 472.2,395.7 511.8,392 551.5,388 577.6,385.3 598.8,383.2 621.7,382.1 642.8,380.9 662.2,379.6 683.3,378.2 701,376.8 717.6,373.9 731.7,373 752,372.6 759.9,371.2 774,370 788.1,368.9 802.2,367.2 816.3,364.7 830.4,362.9 838.3,361.9" fill="none" stroke="#ff00ff" stroke-width="1.0" stroke-linejoin="round" shape-rendering="crispEdges"/>
<polyline points="90,497.7 101.2,490.2 114.3,481.7 127.4,473.9 138.7,467.1 149.9,459.6 160.2,454.6 165.8,454 174.3,450.9 185.5,446.2 198.6,439.1 213.6,428.4 224.8,418.1 239.8,405.9 260,391.7 269.3,384 280,375.5 292.4,369.4 301.6,362.4 315.5,353.2 324.8,349 337.1,340.9 349.4,335.2 360.2,330.8 371,328.1 383.3,322.8 400,315.4 409.3,310.2 420,304.8 430.8,299.4 446.3,292.2 458.6,284.8 469.4,279.4 481.7,271.6 492.5,265.5 504.8,259.8 517.2,250.1 526.4,244.7 538.8,238.8 544.3,236.6 556.6,232 565.8,229.7 578.2,224.3 589,219.7 601.3,215.1 615.2,211.2 630.6,208.1 647.6,204.3 658.3,203.2 670,202.6 681.9,200.8 690.8,198.8 699.7,196.4 709.6,193.9 716.6,192.4 735.4,192.4 745.3,195.1 757,197.6 762.9,198.4 769.9,200.4 773.8,201.4 793.7,201.6 794.6,202.6 838.7,202.6" fill="none" stroke="#000000" stroke-width="1.0" stroke-linejoin="round" shape-rendering="crispEdges"/>
<rect x="90" y="830" width="1" height="38" fill="#5fa35c"/>
<rect x="97" y="830" width="1" height="47" fill="#5fa35c"/>
<rect x="104" y="830" width="1" height="46" fill="#5fa35c"/>
<rect x="111" y="830" width="1" height="56" fill="#5fa35c"/>
<rect x="118" y="830" width="1" height="48" fill="#5fa35c"/>
<rect x="125" y="830" width="1" height="42" fill="#5fa35c"/>
<rect x="132" y="830" width="1" height="42" fill="#5fa35c"/>
<rect x="139" y="830" width="1" height="39" fill="#5fa35c"/>
<rect x="146" y="830" width="1" height="21" fill="#5fa35c"/>
<rect x="153" y="822" width="1" height="8" fill="#d9463f"/>
<rect x="160" y="830" width="1" height="22" fill="#5fa35c"/>
<rect x="167" y="830" width="1" height="66" fill="#5fa35c"/>
<rect x="174" y="830" width="1" height="77" fill="#5fa35c"/>
<rect x="181" y="830" width="1" height="67" fill="#5fa35c"/>
<rect x="188" y="830" width="1" height="27" fill="#5fa35c"/>
<rect x="195" y="812" width="1" height="18" fill="#d9463f"/>
<rect x="202" y="769" width="1" height="61" fill="#d9463f"/>
<rect x="209" y="745" width="1" height="85" fill="#d9463f"/>
<rect x="216" y="738" width="1" height="92" fill="#d9463f"/>
<rect x="223" y="740" width="1" height="90" fill="#d9463f"/>
<rect x="230" y="747" width="1" height="83" fill="#d9463f"/>
<rect x="237" y="744" width="1" height="86" fill="#d9463f"/>
<rect x="244" y="763" width="1" height="67" fill="#d9463f"/>
<rect x="251" y="798" width="1" height="32" fill="#d9463f"/>
<rect x="258" y="806" width="1" height="24" fill="#d9463f"/>
<rect x="265" y="823" width="1" height="7" fill="#d9463f"/>
<rect x="272" y="813" width="1" height="17" fill="#d9463f"/>
<rect x="279" y="819" width="1" height="11" fill="#d9463f"/>
<rect x="286" y="830" width="1" height="14" fill="#5fa35c"/>
<rect x="293" y="830" width="1" height="38" fill="#5fa35c"/>
<rect x="300" y="830" width="1" height="54" fill="#5fa35c"/>
<rect x="307" y="830" width="1" height="56" fill="#5fa35c"/>
<rect x="314" y="830" width="1" height="41" fill="#5fa35c"/>
<rect x="321" y="830" width="1" height="47" fill="#5fa35c"/>
<rect x="328" y="830" width="1" height="57" fill="#5fa35c"/>
<rect x="335" y="830" width="1" height="50" fill="#5fa35c"/>
<rect x="342" y="830" width="1" height="66" fill="#5fa35c"/>
<rect x="349" y="830" width="1" height="46" fill="#5fa35c"/>
<rect x="356" y="830" width="1" height="42" fill="#5fa35c"/>
<rect x="363" y="830" width="1" height="29" fill="#5fa35c"/>
<rect x="370" y="830" width="1" height="24" fill="#5fa35c"/>
<rect x="377" y="830" width="1" height="5" fill="#5fa35c"/>
<rect x="384" y="818" width="1" height="12" fill="#d9463f"/>
<rect x="391" y="807" width="1" height="23" fill="#d9463f"/>
<rect x="398" y="804" width="1" height="26" fill="#d9463f"/>
<rect x="405" y="784" width="1" height="46" fill="#d9463f"/>
<rect x="412" y="774" width="1" height="56" fill="#d9463f"/>
<rect x="419" y="787" width="1" height="43" fill="#d9463f"/>
<rect x="426" y="807" width="1" height="23" fill="#d9463f"/>
<rect x="433" y="818" width="1" height="12" fill="#d9463f"/>
<rect x="440" y="830" width="1" height="4" fill="#5fa35c"/>
<rect x="447" y="827" width="1" height="3" fill="#d9463f"/>
<rect x="454" y="830" width="1" height="2" fill="#5fa35c"/>
<rect x="461" y="829" width="1" height="1" fill="#d9463f"/>
<rect x="468" y="827" width="1" height="3" fill="#d9463f"/>
<rect x="475" y="830" width="1" height="8" fill="#5fa35c"/>
<rect x="482" y="830" width="1" height="10" fill="#5fa35c"/>
<rect x="489" y="830" width="1" height="22" fill="#5fa35c"/>
<rect x="496" y="830" width="1" height="21" fill="#5fa35c"/>
<rect x="503" y="830" width="1" height="7" fill="#5fa35c"/>
<rect x="510" y="830" width="1" height="9" fill="#5fa35c"/>
<rect x="517" y="830" width="1" height="11" fill="#5fa35c"/>
<rect x="524" y="830" width="1" height="40" fill="#5fa35c"/>
<rect x="531" y="830" width="1" height="54" fill="#5fa35c"/>
<rect x="538" y="830" width="1" height="51" fill="#5fa35c"/>
<rect x="545" y="830" width="1" height="49" fill="#5fa35c"/>
<rect x="552" y="830" width="1" height="30" fill="#5fa35c"/>
<rect x="559" y="829" width="1" height="1" fill="#d9463f"/>
<rect x="566" y="804" width="1" height="26" fill="#d9463f"/>
<rect x="573" y="782" width="1" height="48" fill="#d9463f"/>
<rect x="580" y="778" width="1" height="52" fill="#d9463f"/>
<rect x="587" y="779" width="1" height="51" fill="#d9463f"/>
<rect x="594" y="783" width="1" height="47" fill="#d9463f"/>
<rect x="601" y="812" width="1" height="18" fill="#d9463f"/>
<rect x="608" y="828" width="1" height="2" fill="#d9463f"/>
<rect x="615" y="830" width="1" height="11" fill="#5fa35c"/>
<rect x="622" y="830" width="1" height="27" fill="#5fa35c"/>
<rect x="629" y="830" width="1" height="37" fill="#5fa35c"/>
<rect x="636" y="830" width="1" height="42" fill="#5fa35c"/>
<rect x="643" y="830" width="1" height="43" fill="#5fa35c"/>
<rect x="650" y="830" width="1" height="57" fill="#5fa35c"/>
<rect x="657" y="830" width="1" height="72" fill="#5fa35c"/>
<rect x="664" y="830" width="1" height="82" fill="#5fa35c"/>
<rect x="671" y="830" width="1" height="74" fill="#5fa35c"/>
<rect x="678" y="830" width="1" height="61" fill="#5fa35c"/>
<rect x="685" y="830" width="1" height="50" fill="#5fa35c"/>
<rect x="692" y="830" width="1" height="23" fill="#5fa35c"/>
<rect x="699" y="827" width="1" height="3" fill="#d9463f"/>
<rect x="706" y="803" width="1" height="27" fill="#d9463f"/>
<rect x="713" y="804" width="1" height="26" fill="#d9463f"/>
<rect x="720" y="821" width="1" height="9" fill="#d9463f"/>
<rect x="727" y="830" width="1" height="15" fill="#5fa35c"/>
<rect x="734" y="830" width="1" height="25" fill="#5fa35c"/>
<rect x="741" y="830" width="1" height="48" fill="#5fa35c"/>
<rect x="748" y="830" width="1" height="61" fill="#5fa35c"/>
<rect x="755" y="830" width="1" height="45" fill="#5fa35c"/>
<rect x="762" y="830" width="1" height="31" fill="#5fa35c"/>
<rect x="769" y="830" width="1" height="15" fill="#5fa35c"/>
<rect x="776" y="821" width="1" height="9" fill="#d9463f"/>
<rect x="783" y="791" width="1" height="39" fill="#d9463f"/>
<rect x="790" y="775" width="1" height="55" fill="#d9463f"/>
<rect x="797" y="773" width="1" height="57" fill="#d9463f"/>
<rect x="804" y="763" width="1" height="67" fill="#d9463f"/>
<rect x="811" y="748" width="1" height="82" fill="#d9463f"/>
<rect x="818" y="756" width="1" height="74" fill="#d9463f"/>
<rect x="825" y="761" width="1" height="69" fill="#d9463f"/>
<rect x="832" y="781" width="1" height="49" fill="#d9463f"/>
<rect x="839" y="796" width="1" height="34" fill="#d9463f"/>
<polyline points="90.4,760.6 102.2,768.8 115.5,781.4 139.4,799.4 146.5,800.9 153.4,799.8 160.5,802.7 174.5,818.6 181.6,827.5 188.4,831.5 195.3,829.3 209.5,812 223.5,787.6 237.4,767.6 244.5,757.7 258.5,751 279.3,747.3 283.9,748.8 303.8,763.2 334.9,789.8 342.4,798.7 370.3,816.4 384.3,815.3 405.4,803.1 426.4,787.2 440.4,786.5 461.3,785.4 475,786.5 487.7,788.7 496.4,792.5 517.5,795.4 524.5,798.7 545.4,817.5 552.5,822 559.4,822.6 573.3,813.1 587.3,800.9 601.5,792 615.5,792.5 629.4,800.9 643.4,809.8 657.4,827.5 670,843.5 685.4,859 692.5,861.2 698.3,861.4 713.3,854.6 720.4,853.7 734.4,857 741.5,863 748.4,870.8 762.3,879.6 769.4,881.8 776.3,880.3 790.5,871.9 804.5,854.1 818.4,835.3 825.3,825.3 832.4,818.6 839.5,815.3" fill="none" stroke="#1a1aa8" stroke-width="1.0" stroke-linejoin="round" shape-rendering="crispEdges"/>
<polyline points="90.4,778.3 97.7,787.6 105.5,794.3 111,805.8 123.2,809.1 139.4,818.2 146.5,811.6 153.4,796.5 159.8,810.9 167.6,843 174.5,857.5 181.6,861.9 188.4,845.7 195.3,825.3 202.4,794.3 209.5,766.5 216.4,752.1 223.5,742.8 230.6,736.2 237.4,724.4 244.5,725.5 251.4,737.7 258.5,739.5 265.4,745.9 272.5,739.9 279.3,741.5 288.3,757.7 300.5,785.4 307.4,793.8 314.5,792.5 328.4,812 335.5,815.3 342.4,830.8 349.5,827.5 356.4,830.8 363.5,827.5 370.3,827.1 377.4,818.6 384.3,810.9 391.4,800.9 398.3,795.4 405.4,781 412.5,767.2 419.3,768.8 426.4,776.1 433.3,779.8 440.4,787.2 447.3,783.6 454.4,785.8 461.3,784.3 468.3,783.2 476.7,789.4 483.3,792 489.5,799.8 496.4,801.4 503.5,795.4 510.4,796.9 517.5,799.8 524.5,819.8 531.4,834.2 538.5,836.8 545.4,841.9 552.5,837.5 559.4,820.9 566.5,805.3 573.3,788.7 580.4,780.5 587.3,773.9 594.4,770.3 601.5,781.4 608.4,788 615.5,797.1 622.3,807.6 629.4,816.9 636.3,824.2 643.4,830.8 650.3,846.4 657.4,861.9 664.5,877.4 671.7,881.2 685.4,883.4 692.5,871.9 699.4,859 706.5,843 713.3,841.3 720.4,848.6 727.3,860.8 734.4,869.2 741.5,885.2 748.4,901.1 755.5,898 762.3,895.1 769.4,887.4 776.3,874.1 783.4,856.3 790.5,843 797.4,832 804.5,818.6 811.3,801.4 818.4,797.1 825.3,791.4 832.4,792.7 839.5,797.1" fill="none" stroke="#000000" stroke-width="1.0" stroke-linejoin="round" shape-rendering="crispEdges"/>
<rect x="139" y="922" width="1" height="5" fill="#c9d0d8"/>
<rect x="293" y="922" width="1" height="5" fill="#c9d0d8"/>
<rect x="447" y="922" width="1" height="5" fill="#c9d0d8"/>
<rect x="594" y="922" width="1" height="5" fill="#c9d0d8"/>
<rect x="755" y="922" width="1" height="5" fill="#c9d0d8"/>
</svg>
<div class="yl" style="top:35px">1.3991</div>
<div class="yl" style="top:90px">1.3822</div>
<div class="yl" style="top:145px">1.3653</div>
<div class="yl" style="top:200px">1.3485</div>
<div class="yl" style="top:255px">1.3316</div>
<div class="yl" style="top:310px">1.3147</div>
<div class="yl" style="top:365px">1.2979</div>
<div class="yl" style="top:420px">1.2810</div>
<div class="yl" style="top:475px">1.2641</div>
<div class="yl" style="top:530px">1.2473</div>
<div class="yl" style="top:585px">1.2304</div>
<div class="yl" style="top:640px">1.2135</div>
<div class="yl" style="top:717px">0.0072</div>
<div class="yl" style="top:741px">0.0056</div>
<div class="yl" style="top:766px">0.0039</div>
<div class="yl" style="top:791px">0.0022</div>
<div class="yl" style="top:816px">0.0005</div>
<div class="yl" style="top:841px">-0.0011</div>
<div class="yl" style="top:865px">-0.0028</div>
<div class="yl" style="top:890px">-0.0045</div>

<div class="abs cj" style="left:88px;top:23px;color:#111">英镑美元</div>
<div class="abs cj" style="left:135px;top:23px;color:#ff7f1e">【</div>
<div class="abs cj" style="left:148px;top:23px;color:#ff7f1e">日</div>
<div class="abs cj" style="left:160px;top:23px;color:#ff7f1e">线</div>
<div class="abs cj" style="left:173px;top:23px;color:#ff7f1e">】</div>
<svg class="abs" style="left:183.5px;top:27px" width="10" height="10" viewBox="0 0 10 10"><circle cx="5" cy="5" r="4.1" fill="none" stroke="#ff8a30" stroke-width="0.95"/><line x1="1" y1="5" x2="9" y2="5" stroke="#ff8a30" stroke-width="0.95"/><line x1="5" y1="1" x2="5" y2="9" stroke="#ff8a30" stroke-width="0.95"/></svg>
<svg class="abs" style="left:201px;top:21px" width="13" height="14" viewBox="0 0 13 14"><rect x="0.5" y="0.5" width="11" height="12" fill="#fff" stroke="#1a1a7a"/><rect x="1" y="12" width="12" height="1.5" fill="#1a1a7a"/><rect x="12" y="1" width="1" height="12.5" fill="#1a1a7a"/><path d="M1.5 6 L4 3 L6 5.5 L8.5 3 L11 5" fill="none" stroke="#e8202a" stroke-width="1.1"/><path d="M1.5 9.5 L4 6.5 L6.5 9 L8.5 7 L11 9" fill="none" stroke="#2030e0" stroke-width="1.1"/></svg>
<div class="abs la" style="left:216.5px;top:22.8px;color:#111">MA1(50,0,200,0)</div>
<div class="abs la" style="left:313px;top:22.8px;color:#111">MA50:1.3499</div>
<div class="abs la" style="left:396px;top:22.8px;color:#1c1c8c">MA0:1.3508</div>
<div class="abs la" style="left:472px;top:22.8px;color:#ff22ff">MA200:1.3010</div>
<div class="abs la" style="left:562px;top:22.8px;color:#ff8c28">MA0:1.3508</div>
<div class="abs" style="left:599px;top:95px;font-size:12.3px;font-weight:bold;color:#d9423f;line-height:13px">1.3788</div>
<div class="abs" style="left:761px;top:321.5px;font-size:12.3px;font-weight:bold;color:#5f9f5b;line-height:13px">1.3140</div>
<svg class="abs" style="left:0;top:0" width="40" height="720" viewBox="0 0 40 720"><rect x="23" y="705" width="1" height="1" fill="#111"/><rect x="23" y="712" width="1" height="1" fill="#111"/><rect x="24" y="705" width="1" height="1" fill="#111"/><rect x="24" y="712" width="1" height="1" fill="#111"/><rect x="25" y="705" width="1" height="1" fill="#111"/><rect x="25" y="712" width="1" height="1" fill="#111"/><rect x="26" y="705" width="1" height="1" fill="#111"/><rect x="26" y="712" width="1" height="1" fill="#111"/><rect x="21" y="707" width="1" height="1" fill="#111"/><rect x="28" y="707" width="1" height="1" fill="#111"/><rect x="21" y="708" width="1" height="1" fill="#111"/><rect x="28" y="708" width="1" height="1" fill="#111"/><rect x="21" y="709" width="1" height="1" fill="#111"/><rect x="28" y="709" width="1" height="1" fill="#111"/><rect x="21" y="710" width="1" height="1" fill="#111"/><rect x="28" y="710" width="1" height="1" fill="#111"/><rect x="22" y="706" width="1" height="1" fill="#111"/><rect x="27" y="706" width="1" height="1" fill="#111"/><rect x="22" y="711" width="1" height="1" fill="#111"/><rect x="27" y="711" width="1" height="1" fill="#111"/><rect x="23" y="708" width="1" height="1" fill="#f00"/><rect x="23" y="709" width="1" height="1" fill="#f00"/><rect x="26" y="708" width="1" height="1" fill="#f00"/><rect x="26" y="709" width="1" height="1" fill="#f00"/><rect x="24" y="707" width="1" height="1" fill="#f00"/><rect x="24" y="708" width="1" height="1" fill="#f00"/><rect x="24" y="709" width="1" height="1" fill="#f00"/><rect x="24" y="710" width="1" height="1" fill="#f00"/><rect x="25" y="707" width="1" height="1" fill="#f00"/><rect x="25" y="708" width="1" height="1" fill="#f00"/><rect x="25" y="709" width="1" height="1" fill="#f00"/><rect x="25" y="710" width="1" height="1" fill="#f00"/><rect x="24" y="702" width="1" height="1" fill="#f00"/><rect x="24" y="703" width="1" height="1" fill="#f00"/><rect x="24" y="714" width="1" height="1" fill="#f00"/><rect x="24" y="715" width="1" height="1" fill="#f00"/><rect x="18" y="708" width="1" height="1" fill="#f00"/><rect x="19" y="708" width="1" height="1" fill="#f00"/><rect x="30" y="708" width="1" height="1" fill="#f00"/><rect x="31" y="708" width="1" height="1" fill="#f00"/><rect x="19" y="703" width="1" height="1" fill="#f00"/><rect x="20" y="704" width="1" height="1" fill="#f00"/><rect x="30" y="703" width="1" height="1" fill="#f00"/><rect x="29" y="704" width="1" height="1" fill="#f00"/><rect x="19" y="714" width="1" height="1" fill="#f00"/><rect x="20" y="713" width="1" height="1" fill="#f00"/><rect x="30" y="714" width="1" height="1" fill="#f00"/><rect x="29" y="713" width="1" height="1" fill="#f00"/></svg>
<div class="abs lm" style="left:88px;top:705px;color:#111;font-size:12.25px">MACD(13,8,9) DIFF:0.0023</div>
<div class="abs lm" style="left:245px;top:705px;color:#1c1c8c">DEA:0.0011</div>
<div class="abs lm" style="left:318px;top:705px;color:#ff22ff;font-size:12.3px">MACD:0.0024</div>
<div class="abs" style="left:16px;top:921px;width:69px;height:19px;border-right:1px solid #d6dbe3;"></div><div class="abs" style="left:108px;top:938px;width:271px;height:1px;background:#e6eaef"></div>
<div class="abs" style="left:30px;top:924.5px;font-size:13px;line-height:15px;font-weight:bold;color:#ff7f1e">日线</div>
<svg class="abs" style="left:60.5px;top:927.5px" width="9" height="9" viewBox="0 0 9 9"><path d="M4.5 0.3 L8.7 8.3 L0.3 8.3 Z" fill="#ff7f1e"/></svg>
<div class="dl" style="left:141px">2025/04</div>
<div class="dl" style="left:295px">2025/05</div>
<div class="dl" style="left:449.2px">2025/06</div>
<div class="dl" style="left:596px">2025/07</div>
<div class="dl" style="left:757px">2025/08</div>
<div class="bt" style="left:16px;width:38px;background:#ff6a00;color:#fff;">指标</div>
<div class="bt" style="left:55px;width:39px;">模板</div>
<div class="bt" style="left:95px;width:57px;color:#ff7f1e;">VIP指标</div>
<div class="bt" style="left:153px;width:28px;">MA</div>
<div class="bt" style="left:182px;width:38px;">MACD</div>
<div class="bt" style="left:221px;width:39px;">BOLL</div>
<div class="bt" style="left:261px;width:33px;">VOL</div>
<div class="bt" style="left:295px;width:38px;">BIAS</div>
<div class="bt" style="left:334px;width:33px;">CCI</div>
<div class="bt" style="left:368px;width:35px;">KDJ</div>
<div class="bt" style="left:404px;width:38px;">W&amp;R</div>
<div class="bt" style="left:443px;width:33px;">RSI</div>
<div class="bt" style="left:477px;width:25px;">CR</div>
<div class="bt" style="left:503px;width:37px;">PSY</div>
<div class="bt" style="left:541px;width:38px;">设置</div>
<div class="abs" style="left:778.5px;top:893.7px;font-size:31.5px;letter-spacing:1.6px;color:#d6e4f6;text-shadow:1px 1px 0 #c4ae96;line-height:34px">FX678</div>
</body></html>
